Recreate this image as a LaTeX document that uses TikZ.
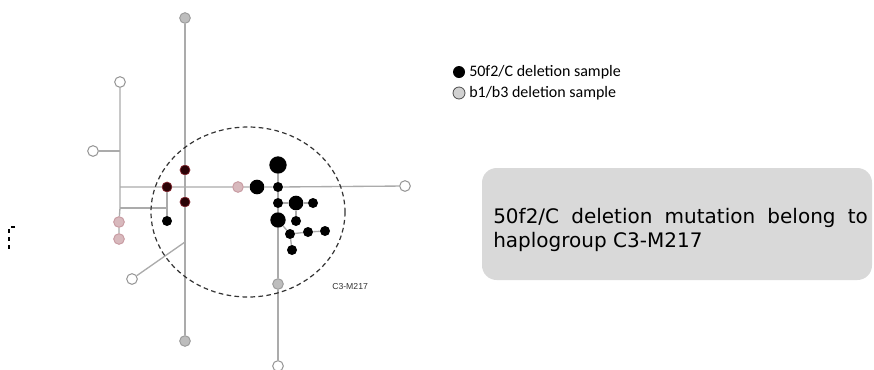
\documentclass[tikz,border=0pt]{standalone}
\usepackage{fontspec}
\setmainfont{Carlito}
\newfontfamily\boxfont{DejaVu Sans}
\newfontfamily\labfont{Liberation Sans}
\usetikzlibrary{positioning}

\definecolor{linegray}{HTML}{ABABAB}
\definecolor{hapgray}{HTML}{BDBDBD}
\definecolor{hapgrayline}{HTML}{9A9A9A}
\definecolor{happink}{HTML}{D8B9BD}
\definecolor{happinkline}{HTML}{C79AA1}
\definecolor{hapdark}{HTML}{2B0306}
\definecolor{hapdarkline}{HTML}{8A2A33}
\definecolor{boxgray}{HTML}{D9D9D9}

\tikzset{
  link/.style={draw=linegray, line width=1pt},
  hap/.style={circle, inner sep=0pt, minimum size=#1},
  hapblack/.style={hap=#1, fill=black},
  hapopen/.style={hap=8pt, fill=white, draw=hapgrayline, line width=0.8pt},
  hapgrey/.style={hap=8pt, fill=hapgray, draw=hapgrayline, line width=0.7pt},
  happink/.style={hap=8pt, fill=happink, draw=happinkline, line width=0.7pt},
  hapred/.style={hap=7.5pt, fill=hapdark, draw=hapdarkline, line width=0.5pt}
}

\begin{document}
\begin{tikzpicture}[x=0.75pt, y=-0.75pt]
  \useasboundingbox (0,0) rectangle (874,369);

  % junctions of the network
  \coordinate (j1) at (120,151);
  \coordinate (j2) at (120,187);
  \coordinate (j3) at (120,208);
  \coordinate (j4) at (167,208);
  \coordinate (j5) at (185,242);

  % samples outside the cluster
  \node[hapgrey] (g1) at (185,18) {};
  \node[hapgrey] (g2) at (185,341) {};
  \node[hapgrey] (g3) at (278,284) {};
  \node[hapopen] (o1) at (120,82) {};
  \node[hapopen] (o2) at (93,151) {};
  \node[hapopen] (o3) at (132,279) {};
  \node[hapopen] (o4) at (278,366) {};
  \node[hapopen] (o5) at (405,186) {};
  \node[happink] (p1) at (119,222) {};
  \node[happink] (p2) at (119,239) {};
  \node[happink] (p3) at (238,187) {};
  \node[hapred] (r1) at (167,187) {};
  \node[hapred] (r2) at (185,170) {};
  \node[hapred] (r3) at (185,202) {};

  % 50f2/C deletion samples
  \node[hapblack=7.5pt] (b1) at (167,221) {};
  \node[hapblack=11pt] (b2) at (257,187) {};
  \node[hapblack=13pt] (b3) at (278,165) {};
  \node[hapblack=7.5pt] (b4) at (278,187) {};
  \node[hapblack=7.5pt] (b5) at (278,203) {};
  \node[hapblack=11pt] (b6) at (296,203) {};
  \node[hapblack=7.5pt] (b7) at (313,203) {};
  \node[hapblack=11.5pt] (b8) at (278,220) {};
  \node[hapblack=7.5pt] (b9) at (296,221) {};
  \node[hapblack=7.5pt] (b10) at (290,234) {};
  \node[hapblack=7.5pt] (b11) at (308,232) {};
  \node[hapblack=7.5pt] (b12) at (325,231) {};
  \node[hapblack=7.5pt] (b13) at (292,250) {};

  % links
  \draw[link] (g1) -- (r2) -- (r3) -- (j5) -- (g2);
  \draw[link] (o1) -- (j1) -- (j2) -- (j3) -- (p1) -- (p2);
  \draw[link] (o2) -- (j1);
  \draw[link] (j2) -- (r1) -- (p3) -- (b2) -- (b4) -- (o5);
  \draw[link] (r1) -- (j4) -- (b1);
  \draw[link] (j3) -- (j4);
  \draw[link] (j5) -- (o3);
  \draw[link] (b3) -- (b4) -- (b5) -- (b8) -- (g3) -- (o4);
  \draw[link] (b5) -- (b6) -- (b7);
  \draw[link] (b6) -- (b9);
  \draw[link] (b8) -- (b10) -- (b11) -- (b12);
  \draw[link] (b10) -- (b13);

  % haplogroup circle
  \draw[line width=0.9pt, black!80, dash pattern=on 3.5pt off 2.5pt]
    (248,212) ellipse [x radius=97, y radius=85];
  \node[font=\labfont\fontsize{6.5}{7}\selectfont, anchor=west, text=black!80, inner sep=0pt] (hg) at (332,287) {C3-M217};

  % stray mark at the left edge
  \draw[line width=0.8pt, dash pattern=on 3pt off 3pt] (15,227) -- (9,227) -- (9,252);

  % legend
  \node[hapblack=9pt] (lega) at (459,72) {};
  \node[hap=9pt, fill=hapgray!70, draw=black!70, line width=0.6pt] (legb) at (459,93) {};
  \node[anchor=west, font=\fontsize{12}{14}\selectfont, inner sep=0pt] (lta) at (469,72) {50f2/C deletion sample};
  \node[anchor=west, font=\fontsize{12}{14}\selectfont, inner sep=0pt] (ltb) at (469,93) {b1/b3 deletion sample};

  % comment box
  \draw[fill=boxgray, draw=none, rounded corners=11pt] (482,168) rectangle (872,280);
  \node[anchor=west, text width=281pt, align=justify, inner sep=0pt,
        font=\boxfont\fontsize{15}{18}\selectfont] (note) at (493,230)
    {50f2/C deletion mutation belong to\linebreak haplogroup C3-M217};
\end{tikzpicture}
\end{document}
